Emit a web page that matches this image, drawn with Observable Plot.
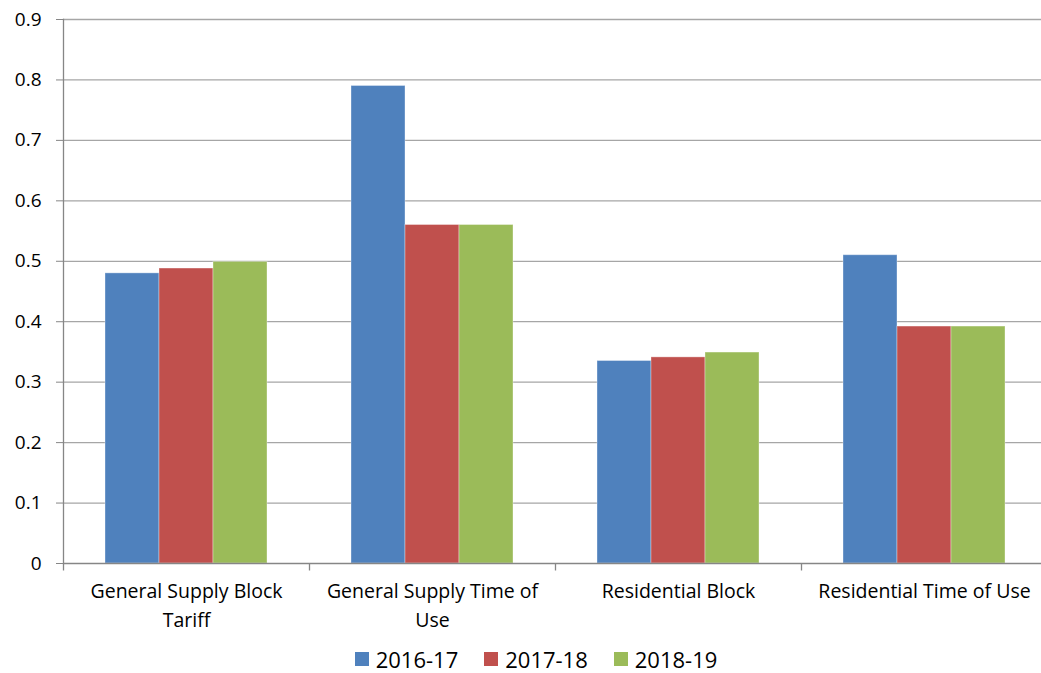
<!DOCTYPE html>
<html>
<head>
<meta charset="utf-8">
<script src="https://cdn.jsdelivr.net/npm/d3@7"></script>
<script src="https://cdn.jsdelivr.net/npm/@observablehq/plot@0.6"></script>
<style>
  html, body { margin: 0; padding: 0; background: #fff; overflow: hidden; }
  #wrap { position: relative; width: 1041px; height: 673px; overflow: hidden; }
  #chart svg { max-width: none !important; }
  #legend { position: absolute; top: 647px; left: 0; width: 1072px; display: flex; justify-content: center; gap: 26px;
            font-family: "Open Sans", sans-serif; font-size: 22px; color: #000; line-height: 24px; }
  .item { display: flex; align-items: center; gap: 7px; }
  .sw { width: 14px; height: 14px; display: inline-block; }
</style>
</head>
<body>
<div id="wrap"><div id="chart"></div><div id="legend"></div></div>
<script>
const categories = ["General Supply Block Tariff", "General Supply Time of Use", "Residential Block", "Residential Time of Use"];
const categoryLabels = ["General Supply Block\nTariff", "General Supply Time of\nUse", "Residential Block", "Residential Time of Use"];
const seriesNames = ["2016-17", "2017-18", "2018-19"];
const values2016 = [0.48, 0.79, 0.335, 0.51];
const values2017 = [0.488, 0.56, 0.341, 0.392];
const values2018 = [0.499, 0.56, 0.349, 0.392];
const seriesColors = ["#4f81bd", "#c0504d", "#9bbb59"];
const yTicks = [0, 0.1, 0.2, 0.3, 0.4, 0.5, 0.6, 0.7, 0.8, 0.9];

const seriesValues = [values2016, values2017, values2018];
const data = [];
categories.forEach((c, i) => seriesNames.forEach((s, j) => data.push({category: c, series: s, value: seriesValues[j][i]})));

const tickSymbol = { draw(ctx) { ctx.moveTo(0, 0); ctx.lineTo(0, 7); } };

const chart = Plot.plot({
  width: 1048, height: 640,
  marginTop: 19, marginBottom: 77, marginLeft: 62, marginRight: 0,
  style: { fontFamily: "Open Sans, sans-serif", fontSize: "19px", color: "#000", background: "white", overflow: "visible", maxWidth: "none" },
  fx: { domain: categories, padding: 0, axis: null, label: null },
  x: { domain: seriesNames, paddingInner: 0, paddingOuter: 0.741, axis: null, label: null },
  y: { domain: [0, 0.9], axis: null, label: null },
  color: { domain: seriesNames, range: seriesColors },
  marks: [
    Plot.gridY(yTicks.filter(d => d > 0), { stroke: "#a6a6a6", strokeOpacity: 1, strokeWidth: 1.3 }),
    Plot.barY(data, { fx: "category", x: "series", y: "value", fill: "series", stroke: "white", strokeOpacity: 0.35, strokeWidth: 1 }),
    Plot.ruleY([0], { stroke: "#868686", strokeWidth: 1.5 }),
    Plot.axisY(yTicks, { tickSize: 7, tickPadding: 15, stroke: "#868686", fontSize: 19, label: null,
      tickFormat: d => d === 0 ? "0" : d3.format(".1f")(d) }),
    Plot.frame({ anchor: "left", facet: "super", stroke: "#868686", strokeWidth: 1.3 }),
    Plot.dot(categories, { fx: d => d, frameAnchor: "bottom-left", symbol: tickSymbol, stroke: "#868686", fill: "none", strokeWidth: 1.3 }),
    Plot.text(categories, { fx: d => d, text: (d, i) => categoryLabels[i], frameAnchor: "bottom",
      lineAnchor: "top", dy: 14, lineHeight: 1.48, fontSize: 19.5, fill: "#000" })
  ]
});
document.getElementById("chart").appendChild(chart);

const legend = document.getElementById("legend");
seriesNames.forEach((s, i) => {
  const item = document.createElement("div");
  item.className = "item";
  const sw = document.createElement("span");
  sw.className = "sw";
  sw.style.background = seriesColors[i];
  const t = document.createElement("span");
  t.textContent = s;
  item.appendChild(sw); item.appendChild(t);
  legend.appendChild(item);
});
</script>
</body>
</html>
